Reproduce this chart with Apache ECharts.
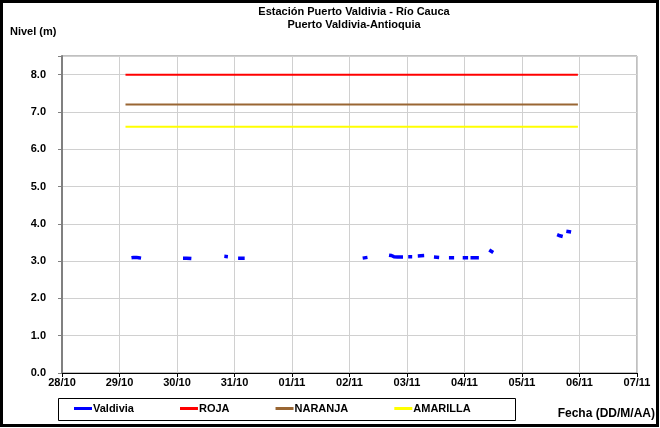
<!DOCTYPE html>
<html>
<head>
<meta charset="utf-8">
<script src="https://cdn.jsdelivr.net/npm/echarts@6/dist/echarts.min.js"></script>
<style>
  html, body { margin: 0; padding: 0; background: #fff; }
  #chart { width: 660px; height: 428px; }
</style>
</head>
<body>
<div id="chart"></div>
<script>
// Hourly-ish level readings at Puerto Valdivia; null marks a gap in the record
const valdiviaTimes = [
  '2019-10-29T05:00', '2019-10-29T06:00', '2019-10-29T07:00', '2019-10-29T08:00', '2019-10-29T09:00',
  '2019-10-29T12:00',
  '2019-10-30T02:30', '2019-10-30T04:00', '2019-10-30T06:00',
  '2019-10-30T12:00',
  '2019-10-30T19:45', '2019-10-30T21:15',
  '2019-10-30T23:00',
  '2019-10-31T01:30', '2019-10-31T03:00', '2019-10-31T04:15',
  '2019-11-01T00:00',
  '2019-11-02T05:30', '2019-11-02T07:30',
  '2019-11-02T12:00',
  '2019-11-02T16:30', '2019-11-02T17:30', '2019-11-02T18:30', '2019-11-02T20:00', '2019-11-02T21:00', '2019-11-02T22:20',
  '2019-11-02T23:30',
  '2019-11-03T00:30', '2019-11-03T02:10',
  '2019-11-03T03:30',
  '2019-11-03T04:30', '2019-11-03T07:10',
  '2019-11-03T09:00',
  '2019-11-03T11:15', '2019-11-03T13:25',
  '2019-11-03T15:00',
  '2019-11-03T17:30', '2019-11-03T19:40',
  '2019-11-03T21:00',
  '2019-11-03T23:15', '2019-11-04T01:30',
  '2019-11-04T02:00',
  '2019-11-04T02:30', '2019-11-04T06:00',
  '2019-11-04T08:00',
  '2019-11-04T10:20', '2019-11-04T11:10', '2019-11-04T12:00',
  '2019-11-05T00:00',
  '2019-11-05T14:40', '2019-11-05T15:50', '2019-11-05T17:00',
  '2019-11-05T17:45',
  '2019-11-05T18:30', '2019-11-05T20:30'
];
const valdiviaLevels = [
  3.09, 3.10, 3.10, 3.09, 3.08,
  null,
  3.08, 3.08, 3.07,
  null,
  3.13, 3.12,
  null,
  3.08, 3.08, 3.08,
  null,
  3.08, 3.10,
  null,
  3.16, 3.15, 3.12, 3.11, 3.11, 3.11,
  null,
  3.12, 3.12,
  null,
  3.14, 3.15,
  null,
  3.11, 3.10,
  null,
  3.09, 3.09,
  null,
  3.09, 3.09,
  null,
  3.09, 3.09,
  null,
  3.30, 3.27, 3.23,
  null,
  3.71, 3.68, 3.66,
  null,
  3.80, 3.78
];

// Alert thresholds (m) and the period they are drawn over
const alertPeriod = ['2019-10-29T02:30', '2019-11-05T23:20'];
const nivelRoja = 8.0;
const nivelNaranja = 7.2;
const nivelAmarilla = 6.6;

// Axis range
const axisStart = '2019-10-28T00:00';
const axisEnd = '2019-11-07T00:00';
const DAY = 86400000;

const ts = s => new Date(s + 'Z').getTime();
const pad = n => (n < 10 ? '0' : '') + n;

const valdiviaData = valdiviaTimes.map((t, i) => [ts(t), valdiviaLevels[i]]);
const flatLine = v => alertPeriod.map(t => [ts(t), v]);

const FONT = 'Liberation Sans, Arial, sans-serif';

const chart = echarts.init(document.getElementById('chart'), null, { renderer: 'canvas' });
chart.setOption({
  animation: false,
  backgroundColor: '#fff',
  title: {
    text: 'Estación Puerto Valdivia - Río Cauca\nPuerto Valdivia-Antioquia',
    left: 349,
    top: 0,
    textAlign: 'center',
    textStyle: { fontFamily: FONT, fontSize: 11, fontWeight: 'bold', color: '#000', lineHeight: 13 }
  },
  grid: {
    left: 62, right: 23, top: 56, bottom: 55,
    show: true, borderColor: '#808080', borderWidth: 1
  },
  xAxis: {
    type: 'value',
    min: ts(axisStart),
    max: ts(axisEnd),
    interval: DAY,
    axisLine: { show: true, onZero: false, lineStyle: { color: '#000', width: 1 } },
    axisTick: { show: true, length: 4, lineStyle: { color: '#000' } },
    splitLine: { show: true, lineStyle: { color: '#d0d0d0', width: 1 } },
    axisLabel: {
      margin: 4,
      fontFamily: FONT, fontSize: 11, fontWeight: 'bold', color: '#000',
      formatter: v => { const d = new Date(v); return pad(d.getUTCDate()) + '/' + pad(d.getUTCMonth() + 1); }
    }
  },
  yAxis: {
    type: 'value',
    min: 0, max: 8.5, interval: 1,
    axisLine: { show: true, lineStyle: { color: '#808080', width: 2 } },
    axisTick: { show: true, length: 4, lineStyle: { color: '#808080' } },
    splitLine: { show: true, lineStyle: { color: '#d0d0d0', width: 1 } },
    axisLabel: {
      margin: 16,
      fontFamily: FONT, fontSize: 11, fontWeight: 'bold', color: '#000',
      formatter: v => (v > 8.01 ? '' : v.toFixed(1))
    }
  },
  legend: {
    data: ['Valdivia', 'ROJA', 'NARANJA', 'AMARILLA'],
    left: 74, top: 403,
    itemGap: 46, itemWidth: 18, itemHeight: 3,
    icon: 'rect',
    padding: 0,
    textStyle: { fontFamily: FONT, fontSize: 11, fontWeight: 'bold', color: '#000', padding: [0, 0, 0, -4] }
  },
  graphic: [
    { type: 'rect', shape: { x: 1.5, y: 1.5, width: 656, height: 424 }, style: { fill: 'none', stroke: '#000', lineWidth: 3 }, silent: true },
    { type: 'rect', shape: { x: 58.5, y: 398.5, width: 457, height: 22 }, style: { fill: 'none', stroke: '#000', lineWidth: 1 }, silent: true },
    { type: 'text', left: 10, top: 26, style: { text: 'Nivel (m)', font: 'bold 11px ' + FONT, fill: '#000' } },
    { type: 'text', right: 5, top: 408, style: { text: 'Fecha (DD/M/AA)', font: 'bold 12px ' + FONT, fill: '#000' } }
  ],
  series: [
    {
      name: 'Valdivia', type: 'line', data: valdiviaData,
      showSymbol: false, symbol: 'none', connectNulls: false,
      lineStyle: { color: '#0000FF', width: 3.5 }, itemStyle: { color: '#0000FF' }, z: 5
    },
    {
      name: 'ROJA', type: 'line', data: flatLine(nivelRoja), showSymbol: false, symbol: 'none',
      lineStyle: { color: '#FF0000', width: 2 }, itemStyle: { color: '#FF0000' }
    },
    {
      name: 'NARANJA', type: 'line', data: flatLine(nivelNaranja), showSymbol: false, symbol: 'none',
      lineStyle: { color: '#996633', width: 2 }, itemStyle: { color: '#996633' }
    },
    {
      name: 'AMARILLA', type: 'line', data: flatLine(nivelAmarilla), showSymbol: false, symbol: 'none',
      lineStyle: { color: '#FFFF00', width: 2 }, itemStyle: { color: '#FFFF00' }
    }
  ]
});
</script>
</body>
</html>
